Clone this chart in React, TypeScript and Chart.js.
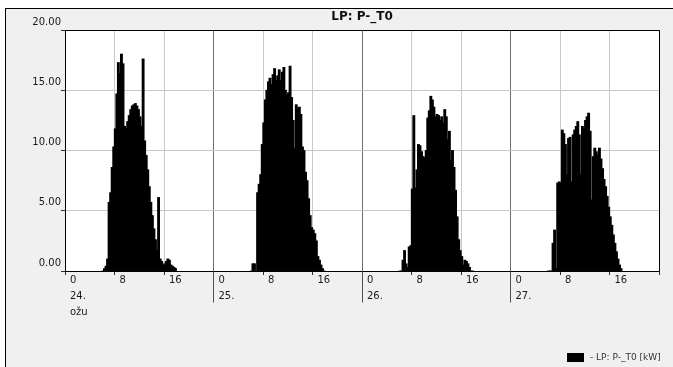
import React, { useEffect, useRef } from 'react';
import { Chart, registerables } from 'chart.js';

Chart.register(...registerables);

// ---- data ----
const TITLE = 'LP: P-_T0';
const LEGEND_LABEL = '- LP: P-_T0 [kW]';
const DAY_LABELS = ['24.', '25.', '26.', '27.'];
const MONTH_LABEL = 'ožu';
const HOUR_TICK_STEP = 8;
const Y_MIN = 0;
const Y_MAX = 20;
const Y_STEP = 5;
const START_HOUR = 6; // first 15-minute slot of each day's array
const SLOT_HOURS = 0.25;

const day24 = [
  0, 0.2, 0.4, 1.0, 5.7, 6.5, 8.6, 10.3,
  11.8, 14.7, 17.3, 16.4, 18.0, 17.2, 12.0, 11.8,
  12.4, 12.9, 13.4, 13.7, 13.8, 13.9, 13.7, 13.4,
  12.8, 12.0, 17.6, 10.8, 9.6, 8.4, 7.0, 5.7,
  4.6, 3.5, 2.6, 1.7, 6.1, 1.0, 0.8, 0.6,
  0.5, 0.8, 1.0, 0.9, 0.5, 0.4, 0.3, 0.2,
];
const day25 = [
  0, 0.6, 0.6, 0, 6.5, 7.2, 8.0, 10.5,
  12.3, 14.2, 15.0, 15.7, 16.0, 15.5, 16.3, 16.8,
  15.8, 16.2, 16.7, 15.8, 16.5, 16.9, 15.0, 14.6,
  14.8, 17.0, 14.4, 12.5, 10.2, 13.8, 13.5, 13.6,
  13.0, 10.3, 10.0, 8.2, 7.5, 6.0, 4.6, 3.6,
  3.4, 3.1, 2.5, 1.2, 0.9, 0.5, 0.2, 0,
];
const day26 = [
  0, 0, 0.9, 1.7, 0.6, 0.3, 2.0, 2.1,
  6.8, 12.9, 6.9, 8.4, 10.5, 10.4, 9.9, 9.5,
  9.4, 10.0, 12.7, 13.3, 14.5, 14.2, 13.6, 12.8,
  13.0, 12.9, 12.5, 12.8, 12.3, 13.4, 12.8, 10.9,
  11.6, 9.2, 10.0, 8.6, 6.7, 4.5, 2.6, 1.7,
  1.2, 0.5, 0.9, 0.8, 0.6, 0.3, 0, 0,
];
const day27 = [
  0, 0, 0, 2.3, 3.4, 0.2, 7.3, 7.4,
  7.3, 11.7, 11.4, 10.5, 8.0, 11.0, 11.1, 7.4,
  11.3, 11.7, 12.0, 12.4, 11.3, 8.0, 12.0, 11.8,
  12.5, 12.8, 13.1, 11.6, 5.9, 9.5, 10.2, 9.9,
  9.6, 10.2, 9.3, 8.5, 7.6, 7.0, 6.2, 5.3,
  4.5, 3.8, 3.0, 2.3, 1.6, 1.0, 0.5, 0.2,
];
const DAYS = [day24, day25, day26, day27];

const FONT = '"DejaVu Sans", "Liberation Sans", sans-serif';

function buildPoints() {
  const pts: { x: number; y: number }[] = [];
  DAYS.forEach((arr, d) => {
    arr.forEach((v, i) => {
      pts.push({ x: d * 24 + START_HOUR + i * SLOT_HOURS + SLOT_HOURS / 2, y: v });
    });
  });
  return pts;
}

function align(p: number) {
  return Math.round(p - 0.5) + 0.5;
}

const decorPlugin = {
  id: 'decor',
  beforeDraw(chart: any) {
    const { ctx, chartArea: a } = chart;
    ctx.save();
    ctx.fillStyle = '#ffffff';
    ctx.fillRect(a.left, a.top, a.right - a.left, a.bottom - a.top);
    ctx.restore();
  },
  afterDatasetsDraw(chart: any) {
    const { ctx, chartArea: a, scales } = chart;
    ctx.save();
    ctx.strokeStyle = '#000000';
    ctx.lineWidth = 1;
    const l = align(a.left), r = align(a.right), t = align(a.top), b = align(a.bottom);
    ctx.beginPath();
    ctx.moveTo(l, t); ctx.lineTo(r, t); ctx.lineTo(r, b); ctx.lineTo(l, b); ctx.closePath();
    ctx.stroke();
    // day-boundary extensions below the axis
    ctx.strokeStyle = '#505050';
    for (let d = 1; d < DAYS.length; d++) {
      const x = align(scales.x.getPixelForValue(d * 24));
      ctx.beginPath();
      ctx.moveTo(x, b);
      ctx.lineTo(x, b + 31);
      ctx.stroke();
    }
    // title
    ctx.fillStyle = '#111111';
    ctx.font = 'bold 12px ' + FONT;
    ctx.textAlign = 'center';
    ctx.textBaseline = 'middle';
    ctx.fillText(TITLE, (a.left + a.right) / 2, 17);
    // legend
    const W = chart.width, H = chart.height;
    ctx.fillStyle = '#000000';
    ctx.fillRect(W - 106, H - 14, 17, 9);
    ctx.fillStyle = '#333333';
    ctx.font = '9px ' + FONT;
    ctx.textAlign = 'left';
    ctx.fillText(LEGEND_LABEL, W - 83, H - 9.5);
    ctx.restore();
  },
};

export default function App() {
  const ref = useRef<HTMLCanvasElement | null>(null);

  useEffect(() => {
    if (!ref.current) return;
    const chart = new Chart(ref.current, {
      type: 'bar',
      data: {
        datasets: [
          {
            label: LEGEND_LABEL,
            data: buildPoints(),
            backgroundColor: '#000000',
            borderWidth: 0,
            barPercentage: 1.35,
            categoryPercentage: 1,
            inflateAmount: 0.4,
          } as any,
        ],
      },
      options: {
        responsive: false,
        animation: false,
        maintainAspectRatio: false,
        layout: { padding: { left: 0, top: 30, right: 14, bottom: 0 } },
        plugins: {
          legend: { display: false },
          title: { display: false },
          tooltip: { enabled: false },
        },
        scales: {
          x: {
            type: 'linear',
            min: 0,
            max: DAYS.length * 24,
            offset: false,
            grid: {
              offset: false,
              color: (c: any) => (c.tick && c.tick.value % 24 === 0 ? '#6e6e6e' : '#c8c8c8'),
              tickColor: '#303030',
              tickLength: 4,
            },
            border: { display: true, color: '#000000' },
            ticks: {
              stepSize: HOUR_TICK_STEP,
              autoSkip: false,
              maxRotation: 0,
              minRotation: 0,
              align: 'start',
              labelOffset: 5,
              padding: -3,
              color: '#1a1a1a',
              font: { family: FONT, size: 10, lineHeight: 1.6 },
              callback: (value: any) => {
                const v = Number(value);
                const d = Math.floor(v / 24);
                const h = v - d * 24;
                if (d >= DAYS.length) return '';
                if (h === 0) {
                  return d === 0 ? ['0', DAY_LABELS[d], MONTH_LABEL] : ['0', DAY_LABELS[d]];
                }
                return String(h);
              },
            },
            afterFit: (s: any) => {
              s.height = 96;
            },
          },
          y: {
            min: Y_MIN,
            max: Y_MAX,
            grid: { color: '#c8c8c8', tickColor: '#303030', tickLength: 4 },
            border: { display: true, color: '#000000' },
            ticks: {
              stepSize: Y_STEP,
              padding: 0,
              labelOffset: -8,
              color: '#1a1a1a',
              font: { family: FONT, size: 10 },
              callback: (v: any) => Number(v).toFixed(2),
            },
            afterFit: (s: any) => {
              s.width = 65;
            },
          },
        },
      } as any,
      plugins: [decorPlugin],
    });
    return () => chart.destroy();
  }, []);

  return (
    <div style={{ position: 'absolute', left: 0, top: 0, width: 673, height: 367, background: '#ffffff', overflow: 'hidden' }}>
      <div
        style={{
          position: 'absolute',
          left: 5,
          top: 8,
          width: 668,
          height: 359,
          background: '#f0f0f0',
          borderTop: '1px solid #000',
          borderLeft: '1px solid #000',
          boxSizing: 'border-box',
        }}
      />
      <canvas ref={ref} width={673} height={367} style={{ position: 'absolute', left: 0, top: 0, width: 673, height: 367 }} />
    </div>
  );
}
